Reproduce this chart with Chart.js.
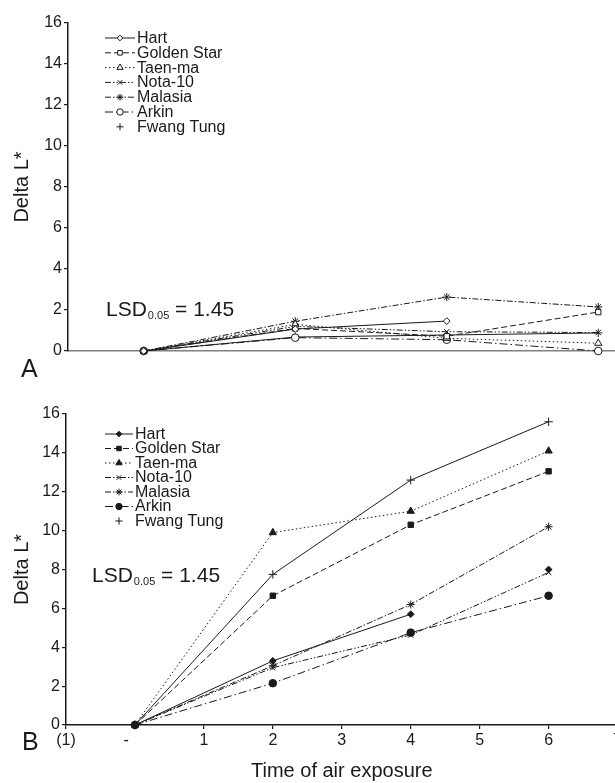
<!DOCTYPE html>
<html>
<head>
<meta charset="utf-8">
<script src="https://cdn.jsdelivr.net/npm/chart.js@4.4.1/dist/chart.umd.min.js"></script>
<style>
	html, body { margin: 0; padding: 0; background: #fff; }
	body { width: 615px; height: 783px; overflow: hidden; position: relative; }
	canvas { position: absolute; left: 0; }
	#panel_a { top: 0; }
	#panel_b { top: 390px; }
</style>
</head>
<body>
<canvas id="panel_a" width="680" height="390"></canvas>
<canvas id="panel_b" width="624" height="393"></canvas>
<script>
// |------------|
// |   Données  |
// |------------|

const times = [0, 2, 4, 6]
const series_names = ['Hart', 'Golden Star', 'Taen-ma', 'Nota-10', 'Malasia', 'Arkin', 'Fwang Tung']
const x_tick_labels = ['(1)', '-', '1', '2', '3', '4', '5', '6', '7']
const y_ticks = [0, 2, 4, 6, 8, 10, 12, 14, 16]

// Panel A
const a_hart = [0, 1.07, 1.46, null]
const a_golden_star = [0, 1.1, 0.72, 1.9]
const a_taen_ma = [0, 1.3, 0.62, 0.38]
const a_nota_10 = [0, 1.2, 0.94, 0.9]
const a_malasia = [0, 1.45, 2.63, 2.15]
const a_arkin = [0, 0.65, 0.55, 0]
const a_fwang_tung = [0, 0.68, 0.78, 0.88]

// Panel B
const b_hart = [0, 3.3, 5.7, 8.0]
const b_golden_star = [0, 6.65, 10.3, 13.05]
const b_taen_ma = [0, 9.9, 11.0, 14.1]
const b_nota_10 = [0, 2.95, 4.63, 7.85]
const b_malasia = [0, 3.05, 6.2, 10.2]
const b_arkin = [0, 2.15, 4.75, 6.65]
const b_fwang_tung = [0, 7.75, 12.6, 15.6]

const lsd_text = ['LSD', '0.05', ' = 1.45']


// |------------|
// |   Styles   |
// |------------|

const font_family = '"Liberation Sans", Arial, Helvetica, sans-serif'
const ink = '#1a1a1a'

Chart.defaults.font.family = font_family
Chart.defaults.color = ink

// trait, marqueur, trait dans la légende
const series_styles = [
	{ dash: [], point: 'rectRot', radius: 3.4, legend_line: true },
	{ dash: [6, 3], point: 'rect', radius: 3.8, legend_line: true },
	{ dash: [1.5, 2.5], point: 'triangle', radius: 4.2, legend_line: true },
	{ dash: [6, 2, 1.5, 2, 1.5, 2], point: 'crossRot', radius: 3.8, legend_line: true },
	{ dash: [6, 2, 1.5, 2], point: 'star', radius: 4, legend_line: true },
	{ dash: [8, 3, 1.5, 3], point: 'circle', radius: 3.8, legend_line: true },
	{ dash: [], point: 'cross', radius: 4.2, legend_line: false }
]


// |---------------|
// |   Fonctions   |
// |---------------|

function make_datasets(values_list, filled, hart_last_gap) {
	return values_list.map((values, i) => {
		const style = series_styles[i]
		const ds = {
			label: series_names[i],
			data: times.map((t, k) => ({ x: t, y: values[k] })),
			borderColor: ink,
			borderWidth: 1,
			borderDash: style.dash,
			pointStyle: style.point,
			pointRadius: style.radius,
			pointBorderColor: ink,
			pointBorderWidth: 1,
			pointBackgroundColor: filled ? ink : '#fff',
			tension: 0,
			clip: false,
			spanGaps: false
		}
		// pas de trait entre 4 et 6 pour Hart
		if (i == 0 && hart_last_gap) {
			ds.segment = { borderColor: (ctx) => (ctx.p0DataIndex >= 2 ? 'rgba(0,0,0,0)' : undefined) }
		}
		return ds
	})
}

function y_axis(width) {
	return {
		type: 'linear',
		min: 0,
		max: 16,
		afterBuildTicks: (scale) => { scale.ticks = y_ticks.map((v) => ({ value: v })) },
		ticks: { padding: 2, color: ink, font: { size: 16 } },
		grid: { display: true, drawOnChartArea: false, drawTicks: true, tickLength: 4, color: ink, lineWidth: 1.2 },
		border: { display: true, color: ink, width: 1.5 },
		title: { display: true, text: 'Delta L*', color: ink, font: { size: 20 }, padding: { top: 10, bottom: 0 } },
		afterFit: (scale) => { scale.width = width }
	}
}

// Légende dessinée à la main : trait + marqueur + nom
const legend_plugin = {
	id: 'line_legend',
	afterDraw(chart, args, opts) {
		const ctx = chart.ctx
		ctx.save()
		chart.data.datasets.forEach((ds, i) => {
			const y = opts.y + i * opts.step
			const mid = opts.x + opts.w / 2
			if (series_styles[i].legend_line) {
				ctx.strokeStyle = ink
				ctx.lineWidth = 1
				ctx.setLineDash(ds.borderDash)
				ctx.beginPath()
				ctx.moveTo(opts.x, y)
				ctx.lineTo(opts.x + opts.w, y)
				ctx.stroke()
			}
			ctx.setLineDash([])
			ctx.strokeStyle = ink
			ctx.fillStyle = ds.pointBackgroundColor
			ctx.lineWidth = 1
			Chart.helpers.drawPoint(ctx, { pointStyle: ds.pointStyle, radius: ds.pointRadius - 0.6, borderWidth: 1, rotation: 0 }, mid, y)
			ctx.fillStyle = ink
			ctx.font = opts.font_size + 'px ' + font_family
			ctx.textBaseline = 'middle'
			ctx.textAlign = 'left'
			ctx.fillText(ds.label, opts.x + opts.w + 2, y + 0.5)
		})
		ctx.restore()
	}
}

// LSD et lettre du panneau
const notes_plugin = {
	id: 'notes',
	afterDraw(chart, args, opts) {
		const ctx = chart.ctx
		ctx.save()
		ctx.fillStyle = ink
		ctx.textBaseline = 'alphabetic'
		ctx.textAlign = 'left'
		let x = opts.lsd_x
		ctx.font = '21px ' + font_family
		ctx.fillText(lsd_text[0], x, opts.lsd_y)
		x += ctx.measureText(lsd_text[0]).width
		ctx.font = '11px ' + font_family
		ctx.fillText(lsd_text[1], x + 1, opts.lsd_y + 3)
		x += ctx.measureText(lsd_text[1]).width + 1
		ctx.font = '21px ' + font_family
		ctx.fillText(lsd_text[2], x, opts.lsd_y)
		ctx.font = '25px ' + font_family
		ctx.fillText(opts.panel, opts.panel_x, opts.panel_y)
		ctx.restore()
	}
}

function get_chart_config(datasets, x_options, y_width, padding, legend_opts, notes_opts) {
	return {
		type: 'line',
		data: { datasets: datasets },
		plugins: [legend_plugin, notes_plugin],
		options: {
			responsive: false,
			animation: false,
			layout: { padding: padding },
			plugins: {
				legend: { display: false },
				tooltip: { enabled: false },
				line_legend: legend_opts,
				notes: notes_opts
			},
			scales: {
				x: x_options,
				y: y_axis(y_width)
			}
		}
	}
}


// |--------------|
// |   Panneau A  |
// |--------------|

const datasets_a = make_datasets([a_hart, a_golden_star, a_taen_ma, a_nota_10, a_malasia, a_arkin, a_fwang_tung], false, false)
const x_axis_a = {
	type: 'linear',
	min: -1,
	max: 7,
	ticks: { display: false },
	grid: { display: false },
	border: { display: true, color: '#808080', width: 1.5 },
	afterFit: (scale) => { scale.height = 39 }
}
new Chart(document.getElementById('panel_a'), get_chart_config(
	datasets_a, x_axis_a, 68,
	{ top: 23, left: 0, right: 6, bottom: 0 },
	{ x: 105, y: 38, step: 14.8, w: 30, font_size: 16 },
	{ lsd_x: 106, lsd_y: 316, panel: 'A', panel_x: 21, panel_y: 377 }
))


// |--------------|
// |   Panneau B  |
// |--------------|

const datasets_b = make_datasets([b_hart, b_golden_star, b_taen_ma, b_nota_10, b_malasia, b_arkin, b_fwang_tung], true, true)
const x_axis_b = {
	type: 'linear',
	min: -1,
	max: 7,
	afterBuildTicks: (scale) => { scale.ticks = x_tick_labels.map((l, i) => ({ value: i - 1 })) },
	ticks: {
		padding: 2,
		color: ink,
		font: { size: 16 },
		autoSkip: false,
		maxRotation: 0,
		// le tiret est un peu à gauche du point 0 dans l'original
		callback: (value) => {
			const label = x_tick_labels[Math.round(value) + 1]
			return label == '-' ? '-    ' : label
		}
	},
	grid: { display: true, drawOnChartArea: false, drawTicks: true, tickLength: 4, color: ink, lineWidth: 1.2 },
	border: { display: true, color: ink, width: 1.5 },
	title: { display: true, text: 'Time of air exposure', color: ink, font: { size: 20 }, padding: { top: 0, bottom: 0 } },
	afterFit: (scale) => { scale.height = 58 }
}
new Chart(document.getElementById('panel_b'), get_chart_config(
	datasets_b, x_axis_b, 66,
	{ top: 24, left: 0, right: 5, bottom: 0 },
	{ x: 105, y: 44, step: 14.5, w: 28, font_size: 16 },
	{ lsd_x: 92, lsd_y: 192, panel: 'B', panel_x: 22, panel_y: 360 }
))
</script>
</body>
</html>
